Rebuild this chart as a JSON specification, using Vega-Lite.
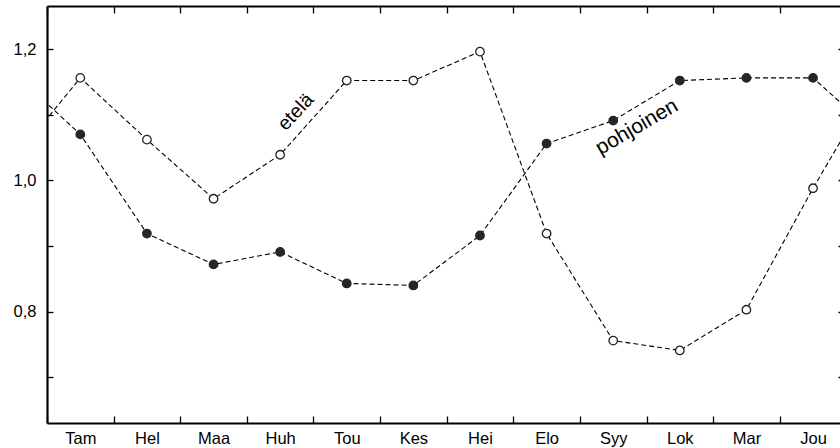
{
  "$schema": "https://vega.github.io/schema/vega-lite/v6.json",
  "width": 793,
  "height": 417,
  "autosize": {"type": "none"},
  "padding": {"left": 47, "top": 6, "right": 0, "bottom": 25},
  "background": "white",
  "config": {
    "view": {"stroke": null},
    "font": "Liberation Sans",
    "axis": {"labelFont": "Liberation Sans", "labelColor": "black", "domainColor": "black", "tickColor": "black", "grid": false, "title": null}
  },
  "datasets": {
    "series": [
      {"m": 0, "v": 1.032, "s": "etelä"},
      {"m": 1, "v": 1.156, "s": "etelä"},
      {"m": 2, "v": 1.062, "s": "etelä"},
      {"m": 3, "v": 0.972, "s": "etelä"},
      {"m": 4, "v": 1.039, "s": "etelä"},
      {"m": 5, "v": 1.152, "s": "etelä"},
      {"m": 6, "v": 1.152, "s": "etelä"},
      {"m": 7, "v": 1.196, "s": "etelä"},
      {"m": 8, "v": 0.919, "s": "etelä"},
      {"m": 9, "v": 0.756, "s": "etelä"},
      {"m": 10, "v": 0.741, "s": "etelä"},
      {"m": 11, "v": 0.803, "s": "etelä"},
      {"m": 12, "v": 0.988, "s": "etelä"},
      {"m": 13, "v": 1.161, "s": "etelä"},
      {"m": 0, "v": 1.164, "s": "pohjoinen"},
      {"m": 1, "v": 1.070, "s": "pohjoinen"},
      {"m": 2, "v": 0.919, "s": "pohjoinen"},
      {"m": 3, "v": 0.872, "s": "pohjoinen"},
      {"m": 4, "v": 0.891, "s": "pohjoinen"},
      {"m": 5, "v": 0.843, "s": "pohjoinen"},
      {"m": 6, "v": 0.840, "s": "pohjoinen"},
      {"m": 7, "v": 0.916, "s": "pohjoinen"},
      {"m": 8, "v": 1.056, "s": "pohjoinen"},
      {"m": 9, "v": 1.091, "s": "pohjoinen"},
      {"m": 10, "v": 1.152, "s": "pohjoinen"},
      {"m": 11, "v": 1.156, "s": "pohjoinen"},
      {"m": 12, "v": 1.156, "s": "pohjoinen"},
      {"m": 13, "v": 1.065, "s": "pohjoinen"}
    ],
    "labels": [
      {"m": 4.234, "v": 1.104, "label": "etelä"},
      {"m": 9.357, "v": 1.081, "label": "pohjoinen"}
    ]
  },
  "layer": [
    {
      "data": {"name": "series"},
      "mark": {"type": "line", "clip": true, "color": "black", "strokeWidth": 1.1, "strokeDash": [5, 3]},
      "encoding": {
        "x": {
          "field": "m", "type": "quantitative",
          "scale": {"domain": [0.5, 12.405], "nice": false, "zero": false},
          "axis": {
            "orient": "bottom",
            "values": [1, 2, 3, 4, 5, 6, 7, 8, 9, 10, 11, 12],
            "labelExpr": "['Tam','Hel','Maa','Huh','Tou','Kes','Hei','Elo','Syy','Lok','Mar','Jou'][datum.value - 1]",
            "tickOffset": -33.3,
            "labelOffset": 33.3,
            "tickSize": -7,
            "tickWidth": 1.3,
            "domainWidth": 2.2,
            "labelFontSize": 16.5,
            "labelPadding": 14,
            "labelFlush": false,
            "labelOverlap": false
          }
        },
        "y": {
          "field": "v", "type": "quantitative",
          "scale": {"domain": [0.6305, 1.2655], "nice": false, "zero": false},
          "axis": {
            "orient": "left",
            "values": [0.7, 0.8, 0.9, 1.0, 1.1, 1.2],
            "labelExpr": "(round(datum.value * 10) % 2 == 0) ? replace(format(datum.value, '.1f'), '.', ',') : ''",
            "tickSize": -6,
            "tickWidth": 1.3,
            "domainWidth": 2.2,
            "labelFontSize": 16.5,
            "labelPadding": 17,
            "labelFlush": false,
            "labelOverlap": false
          }
        },
        "detail": {"field": "s"}
      }
    },
    {
      "data": {"name": "series"},
      "transform": [{"filter": "datum.m >= 1 && datum.m <= 12"}],
      "mark": {"type": "point", "shape": "circle", "size": 72, "stroke": "black", "strokeWidth": 1.3, "opacity": 1, "filled": false},
      "encoding": {
        "x": {"field": "m", "type": "quantitative", "axis": null},
        "y": {"field": "v", "type": "quantitative", "axis": null},
        "fill": {"field": "s", "type": "nominal", "scale": {"domain": ["etelä", "pohjoinen"], "range": ["white", "#262626"]}, "legend": null},
        "stroke": {"field": "s", "type": "nominal", "scale": {"domain": ["etelä", "pohjoinen"], "range": ["#222222", "#262626"]}, "legend": null}
      }
    },
    {
      "data": {"name": "labels"},
      "transform": [{"filter": "datum.label == 'etelä'"}],
      "mark": {"type": "text", "angle": -47, "fontSize": 19.5, "font": "Liberation Sans", "color": "black", "align": "center", "baseline": "middle"},
      "encoding": {
        "x": {"field": "m", "type": "quantitative", "axis": null},
        "y": {"field": "v", "type": "quantitative", "axis": null},
        "text": {"field": "label"}
      }
    },
    {
      "data": {"name": "labels"},
      "transform": [{"filter": "datum.label == 'pohjoinen'"}],
      "mark": {"type": "text", "angle": -30, "fontSize": 21, "font": "Liberation Sans", "color": "black", "align": "center", "baseline": "middle"},
      "encoding": {
        "x": {"field": "m", "type": "quantitative", "axis": null},
        "y": {"field": "v", "type": "quantitative", "axis": null},
        "text": {"field": "label"}
      }
    },
    {
      "data": {"name": "series"},
      "mark": {"type": "point", "opacity": 0, "clip": true},
      "encoding": {
        "x": {
          "field": "m", "type": "quantitative",
          "axis": {
            "orient": "top",
            "values": [1, 2, 3, 4, 5, 6, 7, 8, 9, 10, 11, 12],
            "tickOffset": -33.3,
            "tickSize": -7,
            "tickWidth": 1.3,
            "domainWidth": 2.2,
            "labels": false
          }
        },
        "y": {
          "field": "v", "type": "quantitative",
          "axis": {
            "orient": "right",
            "values": [0.7, 0.8, 0.9, 1.0, 1.1, 1.2],
            "tickSize": -2,
            "tickWidth": 1.3,
            "domain": false,
            "labels": false
          }
        }
      }
    }
  ],
  "resolve": {"axis": {"x": "independent", "y": "independent"}}
}
